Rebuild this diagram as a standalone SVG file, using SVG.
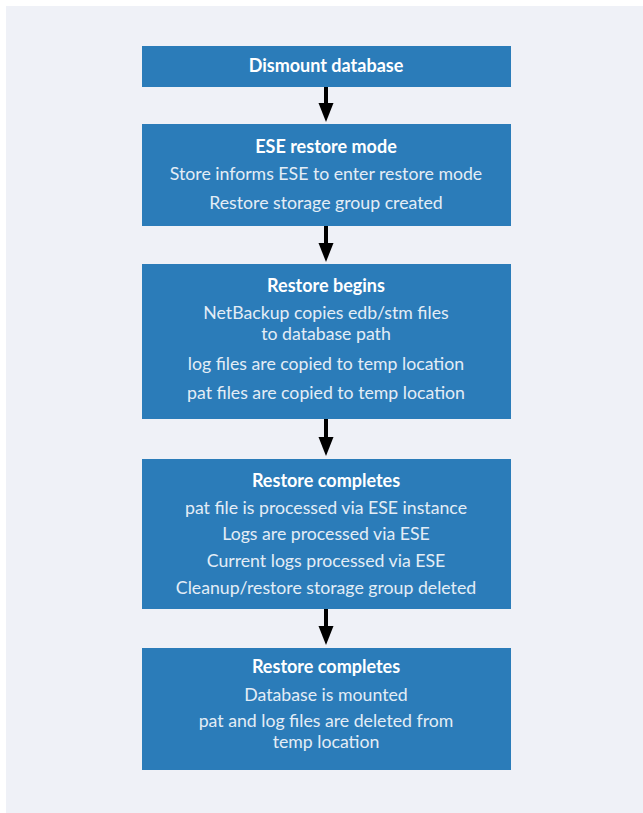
<svg xmlns="http://www.w3.org/2000/svg" width="643" height="813" viewBox="0 0 643 813">
<defs>
<style>
.box{fill:#2b7cb9}
.t{font-family:Lato,"Open Sans",sans-serif;font-weight:bold;font-size:18px;fill:#ffffff;text-anchor:middle}
.b{font-family:Lato,"Open Sans",sans-serif;font-size:17.7px;fill:#e3edf6;text-anchor:middle}
.c line{stroke:#000;stroke-width:4}
</style>
</defs>
<rect x="0" y="0" width="643" height="813" fill="#ffffff"/>
<rect x="6" y="6" width="637" height="807" fill="#eff1f7"/>
<g class="c" id="connectors">
<line x1="326" y1="87" x2="326" y2="104"/><path d="M318.5,103 L333.5,103 L326,122 Z"/>
<line x1="326" y1="226" x2="326" y2="244"/><path d="M318.5,243 L333.5,243 L326,262 Z"/>
<line x1="326" y1="419" x2="326" y2="438"/><path d="M318.5,437 L333.5,437 L326,456 Z"/>
<line x1="326" y1="609" x2="326" y2="627"/><path d="M318.5,626 L333.5,626 L326,645 Z"/>
</g>
<g id="n1"><rect class="box" x="142" y="46" width="369" height="41"/>
<text class="t" x="326" y="72">Dismount database</text></g>
<g id="n2"><rect class="box" x="142" y="124" width="369" height="102"/>
<text class="t" x="326" y="153">ESE restore mode</text>
<text class="b" x="326" y="180">Store informs ESE to enter restore mode</text>
<text class="b" x="326" y="209">Restore storage group created</text></g>
<g id="n3"><rect class="box" x="142" y="264" width="369" height="155"/>
<text class="t" x="326" y="292">Restore begins</text>
<text class="b" x="326" y="319">NetBackup copies edb/stm files</text>
<text class="b" x="326" y="340">to database path</text>
<text class="b" x="326" y="370">log files are copied to temp location</text>
<text class="b" x="326" y="399">pat files are copied to temp location</text></g>
<g id="n4"><rect class="box" x="142" y="459" width="369" height="150"/>
<text class="t" x="326" y="487">Restore completes</text>
<text class="b" x="326" y="514">pat file is processed via ESE instance</text>
<text class="b" x="326" y="540">Logs are processed via ESE</text>
<text class="b" x="326" y="567">Current logs processed via ESE</text>
<text class="b" x="326" y="594">Cleanup/restore storage group deleted</text></g>
<g id="n5"><rect class="box" x="142" y="648" width="369" height="122"/>
<text class="t" x="326" y="673">Restore completes</text>
<text class="b" x="326" y="701">Database is mounted</text>
<text class="b" x="326" y="727">pat and log files are deleted from</text>
<text class="b" x="326" y="748">temp location</text></g>
</svg>
